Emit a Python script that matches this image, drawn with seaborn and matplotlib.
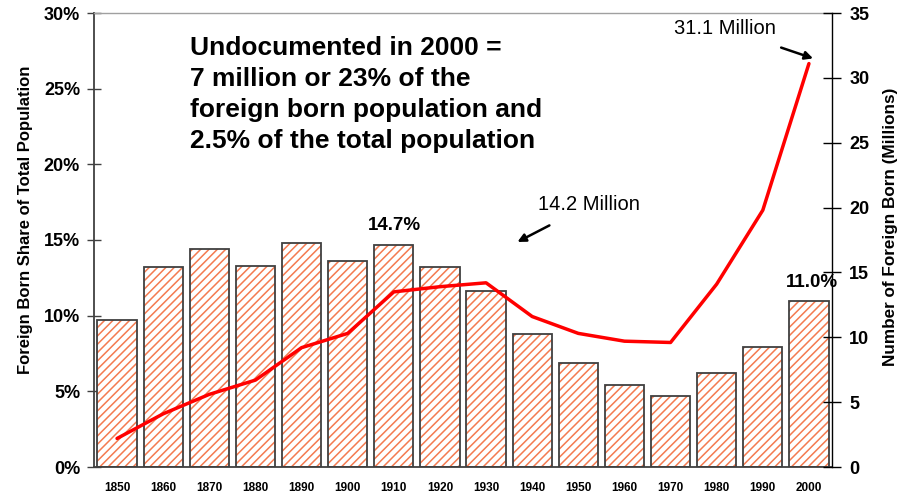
import matplotlib
matplotlib.use("Agg")
import matplotlib.pyplot as plt
import seaborn as sns
import pandas as pd
import numpy as np

years = ["1850", "1860", "1870", "1880", "1890", "1900", "1910", "1920",
         "1930", "1940", "1950", "1960", "1970", "1980", "1990", "2000"]
share_pct = [9.7, 13.2, 14.4, 13.3, 14.8, 13.6, 14.7, 13.2,
             11.6, 8.8, 6.9, 5.4, 4.7, 6.2, 7.9, 11.0]
foreign_born_millions = [2.2, 4.1, 5.6, 6.7, 9.2, 10.3, 13.5, 13.9,
                         14.2, 11.6, 10.3, 9.7, 9.6, 14.1, 19.8, 31.1]
left_ticks = [0, 5, 10, 15, 20, 25, 30]
left_tick_labels = ["0%", "5%", "10%", "15%", "20%", "25%", "30%"]
right_ticks = [0, 5, 10, 15, 20, 25, 30, 35]

sns.set_theme(style="white")
plt.rcParams['font.family'] = ['Liberation Sans', 'DejaVu Sans']
plt.rcParams['hatch.linewidth'] = 1.1
plt.rcParams['text.color'] = 'black'
plt.rcParams['axes.labelcolor'] = 'black'
plt.rcParams['xtick.labelcolor'] = 'black'
plt.rcParams['ytick.labelcolor'] = 'black'

df = pd.DataFrame({"year": years, "share": share_pct, "fb": foreign_born_millions})

fig = plt.figure(figsize=(9.01, 4.95), dpi=100)
ax = fig.add_axes([94/901, 1-467/495, (832-94)/901, (467-13)/495])

# hatched fill layer
sns.barplot(data=df, x="year", y="share", ax=ax, color="white", width=0.85,
            saturation=1, linewidth=0)
for p in ax.patches:
    p.set_hatch("////")
    p.set_edgecolor("#f47a50")
    p.set_linewidth(0)
# outline layer
sns.barplot(data=df, x="year", y="share", ax=ax, fill=False, width=0.85,
            edgecolor="#404040", linewidth=1.3)

ax.set_xlim(-0.5, 15.5)
ax.set_ylim(0, 30)
ax.set_yticks(left_ticks)
ax.set_yticklabels(left_tick_labels, fontsize=13, fontweight="bold")
ax.set_xticks(range(len(years)))
ax.set_xticklabels(years, fontsize=8.5, fontweight="bold")
ax.set_xticks(np.arange(-0.5, 16, 1), minor=True)
ax.tick_params(axis="x", which="major", length=0, pad=11, labelcolor="black")
ax.tick_params(axis="x", which="minor", length=6, direction="inout", width=1, color="#404040")
ax.tick_params(axis="y", length=10, direction="inout", width=1, color="#404040", pad=5, left=True,
               labelcolor="black")
ax.set_xlabel("")
ax.set_ylabel("Foreign Born Share of Total Population", fontsize=12, fontweight="bold", color="black")
ax.yaxis.set_label_coords(-0.083, 0.544)
for s in ["left", "bottom"]:
    ax.spines[s].set_color("#404040")
    ax.spines[s].set_linewidth(1.3)
ax.spines["top"].set_color("#a0a0a0")
ax.spines["top"].set_linewidth(1)
ax.spines["right"].set_visible(False)

ax2 = ax.twinx()
sns.lineplot(data=df, x="year", y="fb", ax=ax2, color="#ff0000", linewidth=2.5, sort=False)
ax2.set_ylim(0, 35)
ax2.set_xlim(-0.5, 15.5)
ax2.set_yticks(right_ticks)
ax2.set_yticklabels([str(t) for t in right_ticks], fontsize=13, fontweight="bold")
ax2.tick_params(axis="y", length=13, direction="inout", width=1, color="black", pad=6, right=True,
                labelcolor="black")
ax2.set_ylabel("Number of Foreign Born (Millions)", fontsize=12.3, fontweight="bold", color="black")
ax2.yaxis.set_label_coords(1.069, 0.529)
ax2.set_xlabel("")
for s in ["left", "top", "bottom"]:
    ax2.spines[s].set_visible(False)
ax2.spines["right"].set_color("black")
ax2.spines["right"].set_linewidth(1)

ax.text(6.02, 15.96, "14.7%", ha="center", va="center", fontsize=13.5, fontweight="bold", color="black")
ax.text(15.06, 12.16, "11.0%", ha="center", va="center", fontsize=13.5, fontweight="bold", color="black")

ax2.annotate("31.1 Million", xy=(15.09, 31.5), xytext=(13.18, 33.8), ha="center", va="center",
             fontsize=14.5, color="black",
             arrowprops=dict(arrowstyle="-|>", color="black", lw=1.8,
                             shrinkA=14, shrinkB=0, mutation_scale=12))
ax2.annotate("14.2 Million", xy=(8.68, 17.35), xytext=(10.23, 20.2), ha="center", va="center",
             fontsize=14.5, color="black",
             arrowprops=dict(arrowstyle="-|>", color="black", lw=1.8,
                             shrinkA=12, shrinkB=0, mutation_scale=12))

fig.text(190/901, 1-36/495,
         "Undocumented in 2000 =\n7 million or 23% of the\nforeign born population and\n2.5% of the total population",
         ha="left", va="top", fontsize=19, fontweight="bold", linespacing=1.36, color="black")

fig.savefig("out.png", dpi=100)
